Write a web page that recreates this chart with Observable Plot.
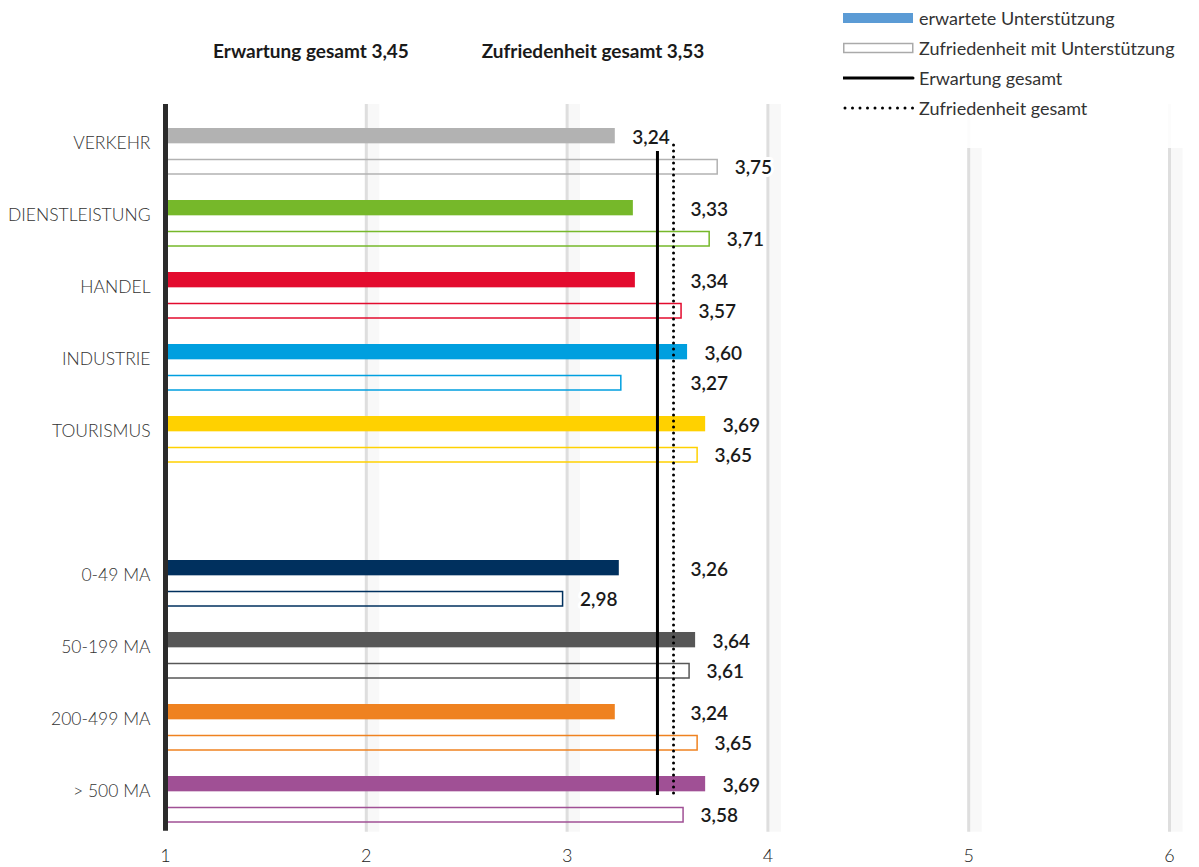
<!DOCTYPE html>
<html><head><meta charset="utf-8">
<script src="https://cdn.jsdelivr.net/npm/d3@7"></script>
<script src="https://cdn.jsdelivr.net/npm/@observablehq/plot@0.6"></script>
<style>
body{margin:0;background:#fff;font-family:Lato,"Open Sans",sans-serif;}
#wrap{position:relative;width:1199px;height:867px;overflow:hidden;}
.ttl{position:absolute;top:40px;font-weight:700;font-size:19px;line-height:22px;color:#1a1a1a;white-space:nowrap;transform:translateX(-50%);}
#legend{position:absolute;left:843px;top:3px;width:356px;height:145px;font-size:18px;color:#333;background:rgba(255,255,255,0.9);}
.li{display:flex;align-items:center;height:30px;white-space:nowrap;}
.li svg{margin-right:4px;flex:none;}
</style></head><body>
<div id="wrap">
<div id="chart"></div>
<div class="ttl" id="t1" style="left:311px"></div>
<div class="ttl" id="t2" style="left:593px"></div>
<div id="legend"></div>
</div>
<script>
// ---- data ----
const categories = ["VERKEHR","DIENSTLEISTUNG","HANDEL","INDUSTRIE","TOURISMUS","0-49 MA","50-199 MA","200-499 MA","> 500 MA"];
const expected = [3.24,3.33,3.34,3.60,3.69,3.26,3.64,3.24,3.69];
const satisfaction = [3.75,3.71,3.57,3.27,3.65,2.98,3.61,3.65,3.58];
const colors = ["#b2b2b2","#76b82a","#e30b2e","#009fdf","#ffd100","#00305e","#575757","#ef8220","#a05095"];
const expectTotal = 3.45;
const satTotal = 3.53;
const xTicks = [1,2,3,4,5,6];
const legendLabels = ["erwartete Unterstützung","Zufriedenheit mit Unterstützung","Erwartung gesamt","Zufriedenheit gesamt"];
const titleLabels = ["Erwartung gesamt","Zufriedenheit gesamt"];

const fmt = v => d3.format(".2f")(v).replace(".", ",");
const base = xTicks[0];
const spacer = " ";
const yDomain = [...categories.slice(0,5), spacer, ...categories.slice(5)];
const rows = categories.map((c,i)=>({cat:c, exp:expected[i], sat:satisfaction[i], color:colors[i], i}));

// label anchor: push labels right of the total lines when they would collide
const collides = v => v > 3.17 && v < 3.46;
const labX = (v, first) => (collides(v) && !first) ? satTotal : v;

const chart = Plot.plot({
  width: 1199, height: 867,
  marginTop: 111, marginBottom: 29.33, marginLeft: 165, marginRight: 30,
  style: {fontFamily: "Lato, 'Open Sans', sans-serif", fontSize: "17px", background: "white", overflow: "visible"},
  x: {domain: [1, 6], axis: null},
  y: {domain: yDomain, paddingInner: 0, paddingOuter: 0, axis: null},
  color: {type: "identity"},
  marks: [
    Plot.ruleX(xTicks.slice(1), {stroke: "#f8f8f8", strokeWidth: 12, dx: 7, insetTop: -7, insetBottom: 6}),
    Plot.ruleX(xTicks.slice(1), {stroke: "#dedede", strokeWidth: 3, insetTop: -7, insetBottom: 6}),
    Plot.barX(rows, {x1: () => base, x2: "exp", y: "cat", fill: "color", insetTop: 14, insetBottom: 42.67}),
    Plot.barX(rows, {x1: () => base, x2: "sat", y: "cat", fill: "none", stroke: "color", strokeWidth: 1.5, insetTop: 45.5, insetBottom: 12}),
    Plot.ruleX([expectTotal], {stroke: "#000", strokeWidth: 3, insetTop: 40, insetBottom: 42.7}),
    Plot.ruleX([satTotal], {stroke: "#000", strokeWidth: 3, strokeDasharray: "0 6", strokeLinecap: "round", insetTop: 34, insetBottom: 42.7}),
    Plot.ruleX([base], {stroke: "#2b2b2b", strokeWidth: 5, insetTop: -7, insetBottom: 7}),
    Plot.text(rows, {x: d => labX(d.exp, d.i === 0), y: "cat", text: d => fmt(d.exp), textAnchor: "start", dx: 17, dy: -13,
      fontWeight: 600, fontSize: 19, fill: "#1a1a1a", stroke: "white", strokeWidth: 6}),
    Plot.text(rows, {x: d => labX(d.sat, false), y: "cat", text: d => fmt(d.sat), textAnchor: "start", dx: 17, dy: 17.5,
      fontWeight: 600, fontSize: 19, fill: "#1a1a1a", stroke: "white", strokeWidth: 6}),
    Plot.text(categories, {y: d => d, text: d => d, frameAnchor: "left", textAnchor: "end", dx: -15, dy: -7, fontSize: 17.5, fontWeight: 300, fill: "#333"}),
    Plot.text(xTicks, {x: d => d, text: d => String(d), frameAnchor: "bottom", dy: 24, fontSize: 18, fontWeight: 300, fill: "#222"})
  ]
});
document.getElementById("chart").appendChild(chart);

document.getElementById("t1").textContent = `${titleLabels[0]} ${fmt(expectTotal)}`;
document.getElementById("t2").textContent = `${titleLabels[1]} ${fmt(satTotal)}`;

const swatches = [
  `<svg width="72" height="12"><rect x="0" y="1" width="70" height="10" fill="#5b9bd5"/></svg>`,
  `<svg width="72" height="12"><rect x="0.75" y="1.5" width="69" height="9" fill="none" stroke="#aaa" stroke-width="1.5"/></svg>`,
  `<svg width="72" height="12"><line x1="0" x2="70" y1="6" y2="6" stroke="#000" stroke-width="3" stroke-linecap="round"/></svg>`,
  `<svg width="72" height="12"><line x1="2" x2="70" y1="6" y2="6" stroke="#000" stroke-width="3" stroke-dasharray="0 7.5" stroke-linecap="round"/></svg>`
];
const leg = document.getElementById("legend");
legendLabels.forEach((t, i) => {
  const div = document.createElement("div");
  div.className = "li";
  div.innerHTML = swatches[i];
  const span = document.createElement("span");
  span.textContent = t;
  div.appendChild(span);
  leg.appendChild(div);
});
</script>
</body></html>
